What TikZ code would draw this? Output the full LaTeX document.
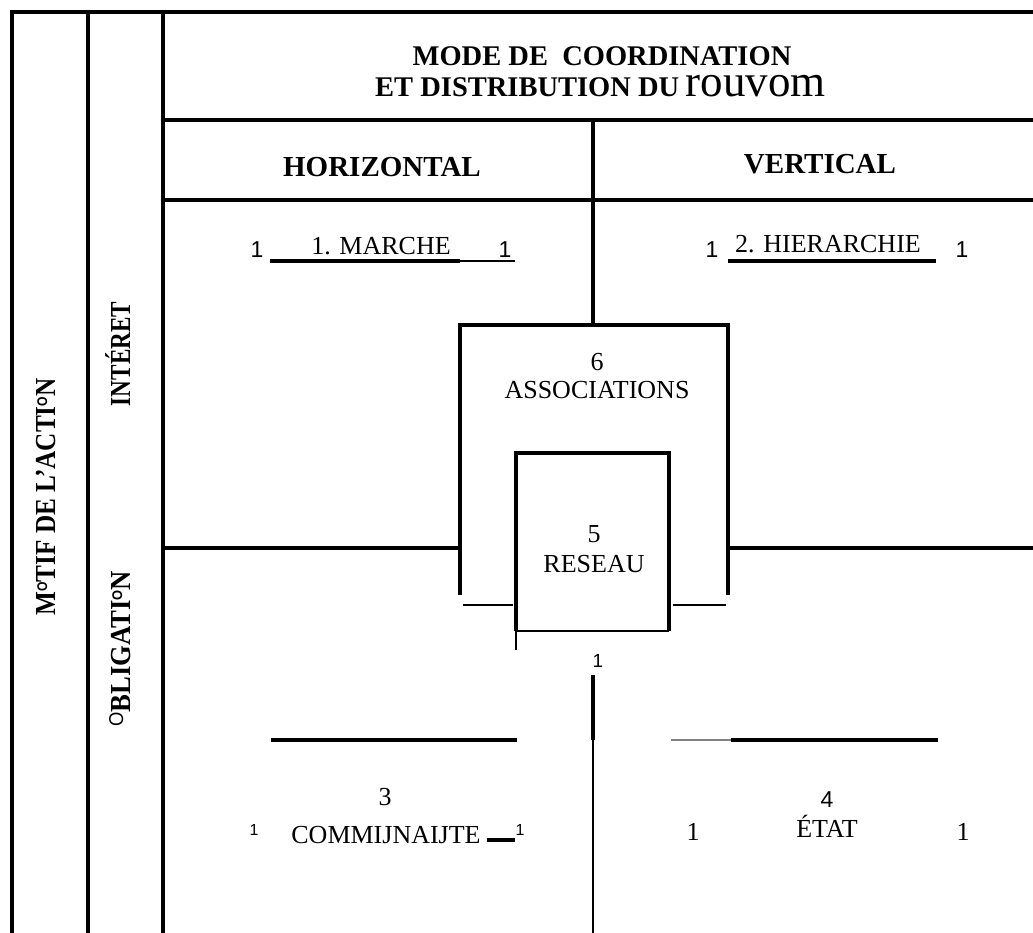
\documentclass[tikz,border=0pt]{standalone}
\usepackage{fontspec}
\setmainfont{Liberation Serif}
\newfontfamily\arialfont{Liberation Sans}
\usetikzlibrary{positioning}
\newcommand{\littleo}{\raisebox{8pt}{\fontsize{14}{14}\selectfont\arialfont O}}

\begin{document}
\begin{tikzpicture}[x=1pt, y=-1pt,
    rule/.style={line width=3.2pt},
    fat/.style={line width=4.4pt},
    slim/.style={line width=2pt},
    hair/.style={line width=1.1pt},
    head/.style={font=\fontsize{29}{30}\selectfont\bfseries, inner sep=0pt, anchor=base},
    cell/.style={font=\fontsize{26}{28}\selectfont, inner sep=0pt, anchor=base},
    one/.style={font=\fontsize{23}{24}\selectfont\arialfont, inner sep=0pt, anchor=base},
    side/.style={font=\fontsize{29}{30}\selectfont\bfseries, inner sep=0pt, anchor=base, rotate=90}]

    \useasboundingbox (0,0) rectangle (1033,933);

    % frame and grid
    \draw[rule] (12,933) -- (12,12) -- (1033,12);
    \draw[rule] (88,12) -- (88,933);
    \draw[rule] (163,12) -- (163,933);
    \draw[rule] (163,120) -- (1033,120);
    \draw[rule] (163,200) -- (1033,200);
    \draw[fat] (270,200) -- (487,200);
    \draw[fat] (728,200) -- (936,200);
    \draw[rule] (593,120) -- (593,325);
    \draw[rule] (163,548) -- (460,548);
    \draw[rule] (728,548) -- (1033,548);

    % 6 and 5
    \draw[rule] (460,595) -- (460,325) -- (728,325) -- (728,595);
    \draw[slim] (463,605) -- (513,605);
    \draw[slim] (673,605) -- (726,605);
    \draw[rule] (516,631) -- (516,453) -- (669,453) -- (669,631);
    \draw[hair] (516,631) -- (669,631);
    \draw[hair] (516,631) -- (516,650);

    % lower half
    \draw[rule] (593,675) -- (593,740);
    \draw[slim] (593,740) -- (593,933);
    \draw[rule] (271,740) -- (517,740);
    \draw[slim, gray] (671,740) -- (731,740);
    \draw[rule] (731,740) -- (938,740);

    % underlines of 1 and 2
    \draw[rule] (270,261) -- (460,261);
    \draw[slim] (460,261) -- (515,261);
    \draw[rule] (728,261) -- (936,261);
    \draw[fat] (487,840) -- (515,840);

    % headings
    \node[head, font=\fontsize{28.5}{30}\selectfont\bfseries] (mode) at (602,66) {MODE DE\ \ COORDINATION};
    \node[head, font=\fontsize{28.5}{30}\selectfont\bfseries, anchor=base west] (distr) at (375,97) {ET DISTRIBUTION DU};
    \node[head, font=\fontsize{45}{45}\selectfont, anchor=base west, text height=20pt, xshift=6pt] (pouvoir) at (distr.base east) {rouvom};
    \node[head] (horiz) at (382,177) {HORIZONTAL};
    \node[head] (vert) at (820,174) {VERTICAL};

    \node[side] (motif) at (55,497) {\scalebox{0.87}[1]{M\littleo TIF DE L’ACTI\littleo N}};
    \node[side] (interet) at (130,354) {\scalebox{0.8}[1]{INTÉRET}};
    \node[side] (oblig) at (130,649) {\scalebox{0.92}[1]{\raisebox{7pt}{\fontsize{20}{20}\selectfont\mdseries\arialfont O}BLIGATI\littleo N}};

    % cells
    \node[cell] (marche) at (381,255) {1. MARCHE};
    \node[one] (m1) at (257,258) {1};
    \node[one] (m2) at (505,258) {1};
    \node[cell] (hier) at (828,253) {2. HIERARCHIE};
    \node[one] (h1) at (712,258) {1};
    \node[one] (h2) at (962,258) {1};

    \node[cell] (n6) at (597,370) {6};
    \node[cell] (assoc) at (597,398) {ASSOCIATIONS};
    \node[cell] (n5) at (594,542) {5};
    \node[cell] (reseau) at (594,572) {RESEAU};
    \node[one, font=\fontsize{19}{20}\selectfont\arialfont] (r1) at (598,667) {1};

    \node[cell] (n3) at (385,805) {3};
    \node[cell] (commu) at (386,843) {COMMIJNAIJTE};
    \node[one, font=\fontsize{16}{16}\selectfont\arialfont] (c1) at (254,835) {1};
    \node[one, font=\fontsize{16}{16}\selectfont\arialfont] (c2) at (520,835) {1};
    \node[one] (n4) at (827,807) {4};
    \node[cell] (etat) at (827,837) {ÉTAT};
    \node[cell] (e1) at (693,840) {1};
    \node[cell] (e2) at (963,840) {1};
\end{tikzpicture}
\end{document}
